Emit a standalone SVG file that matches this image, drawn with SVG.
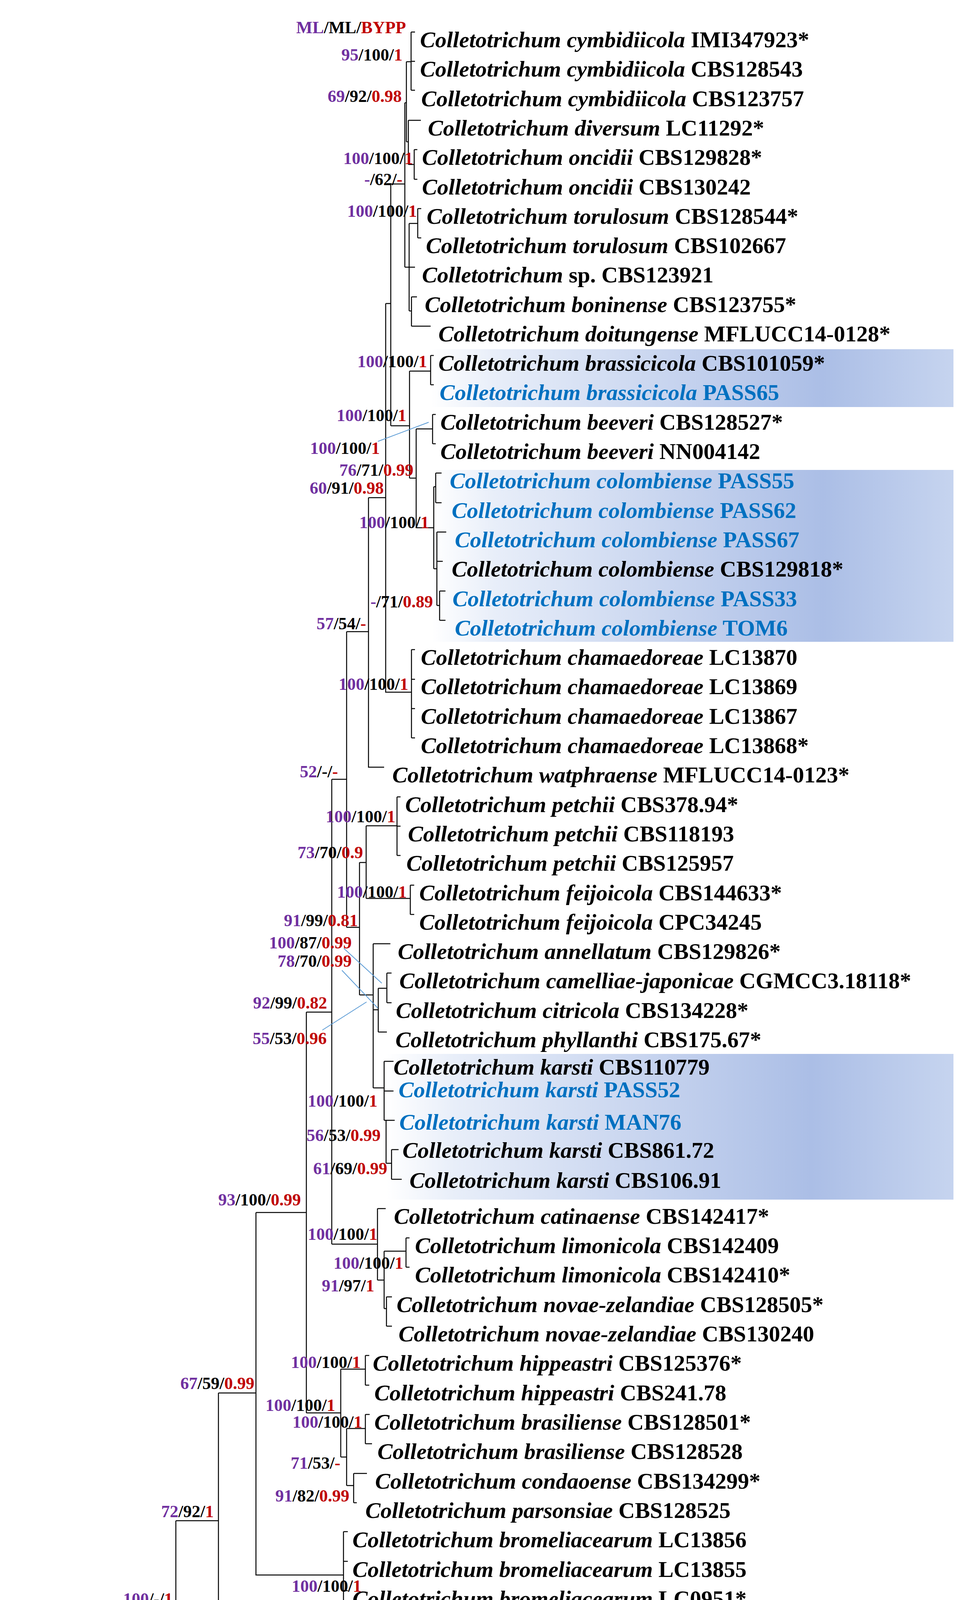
<svg xmlns="http://www.w3.org/2000/svg" width="2490" height="4550" viewBox="0 0 2490 4550">
<style>
.t{font-family:"Liberation Serif","Times New Roman",serif;font-size:58px;font-weight:bold;fill:#000}
.b{fill:#0070C0}
.i{font-style:italic}
.l{font-family:"Liberation Serif","Times New Roman",serif;font-size:44px;font-weight:bold;text-anchor:end;fill:#000}
.p{fill:#7030A0}
.r{fill:#C00000}
.br{fill:none;stroke:#000;stroke-width:2.5}
.ld{fill:none;stroke:#5B9BD5;stroke-width:2}
</style>
<defs>
<linearGradient id="hl" x1="0" y1="0" x2="1" y2="0">
<stop offset="0" stop-color="#ffffff"/>
<stop offset="0.12" stop-color="#e8eef9"/>
<stop offset="0.75" stop-color="#abbee6"/>
<stop offset="1" stop-color="#c6d4ef"/>
</linearGradient>
</defs>
<rect width="2490" height="4550" fill="#fff"/>
<g id="highlights">
<rect x="1103" y="894" width="1337" height="148" fill="url(#hl)"/>
<rect x="1105" y="1203" width="1335" height="440" fill="url(#hl)"/>
<rect x="989" y="2698" width="1451" height="373" fill="url(#hl)"/>
</g>
<g id="connectors">
<path class="br" d="M85 4111V4450H459M85 4111H450M450 3893V4335H594M594 4296V4374M594 4299H606M594 4374H610
M450 3893H559M559 3566V4221H695M559 3566H655M655 3104V4032H879M879 3921V4147M879 3921H890M879 3997H890M879 4072H890M879 4147H890
M1052 82V231M1052 82H1062M1052 157H1062M1052 231H1062M1040 158H1052M1040 158V363M1040 363H1045M1045 308V421M1045 308H1077M1045 421H1060M1060 383V459M1060 383H1068M1060 459H1068
M1036 263H1040M1036 263V684M1000 471H1036M1036 684H1047M1047 572V796M1047 572H1069M1069 534V609M1069 534H1078M1069 609H1078M1047 684H1062M1047 796H1053M1053 760V835M1053 760H1067M1053 835H1102
M1000 471V1090M987 777H1000M1000 1090H1048M1048 950V1224M1048 950H1102M1102 910V985M1102 910H1110M1102 985H1110
M1048 1224H1065M1065 1098V1351M1065 1098H1107M1107 1061V1136M1107 1061H1115M1107 1136H1115
M1065 1351H1110M1110 1246V1456M1110 1246H1115M1115 1211V1287M1115 1211H1130M1115 1287H1130M1110 1456H1118M1118 1362V1550M1118 1362H1142M1118 1437H1133M1118 1550H1125M1125 1513V1588M1125 1513H1140M1125 1588H1140
M987 777V1772H1053M1053 1663V1889M1053 1663H1062M1053 1739H1062M1053 1814H1062M1053 1889H1062
M943 1274H987M943 1274V1964H983M887 1617H943M887 1617V2374M849 1995H887M849 1995V3185M784 2591H849
M887 2374H920M920 2208V2547M920 2208H937M937 2114V2300M937 2114H1016M1016 2040V2190M1016 2040H1025M1016 2115H1025M1016 2190H1025M937 2300H1050M1050 2266V2341M1050 2266H1060M1050 2341H1060
M920 2547H955M955 2416V2785M955 2416H999M955 2585H968M968 2530V2642M968 2530H990M990 2491V2567M990 2491H1002M990 2567H1002M968 2642H990
M955 2785H983M983 2717V2868M983 2717H1007M983 2793H1007M983 2868H988M988 2868V2978M988 2868H1010M988 2978H1002M1002 2943V3019M1002 2943H1020M1002 3019H1028
M849 3185H966M966 3094V3277M966 3094H987M966 3277H983M983 3203V3350M983 3203H1039M1039 3169V3244M1039 3169H1048M1039 3244H1048M983 3350H989M989 3320V3395M989 3320H1003M989 3395H1003
M784 2591V3617M655 3104H784M784 3617H872M872 3505V3730M872 3505H935M935 3470V3546M935 3470H945M935 3546H945M872 3730H887M887 3657V3803M887 3657H935M935 3621V3696M935 3621H946M935 3696H952M887 3803H905M905 3772V3847M905 3772H939M905 3847H913"/>
<path class="ld" d="M1097 1081L967 1130M880 2428L977 2517M875 2484L967 2581M825 2637L938 2565"/>
<path class="br" d="M100 4511H326M100 4502V4520M326 4502V4520"/>
</g>
<g id="taxa">
<text id="n1" class="t" x="1075" y="121"><tspan class="i">Colletotrichum cymbidiicola</tspan> IMI347923*</text>
<text id="n2" class="t" x="1075" y="196"><tspan class="i">Colletotrichum cymbidiicola</tspan> CBS128543</text>
<text id="n3" class="t" x="1078" y="272"><tspan class="i">Colletotrichum cymbidiicola</tspan> CBS123757</text>
<text id="n4" class="t" x="1095" y="347"><tspan class="i">Colletotrichum diversum</tspan> LC11292*</text>
<text id="n5" class="t" x="1080" y="422"><tspan class="i">Colletotrichum oncidii</tspan> CBS129828*</text>
<text id="n6" class="t" x="1080" y="498"><tspan class="i">Colletotrichum oncidii</tspan> CBS130242</text>
<text id="n7" class="t" x="1092" y="573"><tspan class="i">Colletotrichum torulosum</tspan> CBS128544*</text>
<text id="n8" class="t" x="1090" y="648"><tspan class="i">Colletotrichum torulosum</tspan> CBS102667</text>
<text id="n9" class="t" x="1080" y="723"><tspan class="i">Colletotrichum</tspan> sp. CBS123921</text>
<text id="n10" class="t" x="1087" y="799"><tspan class="i">Colletotrichum boninense</tspan> CBS123755*</text>
<text id="n11" class="t" x="1122" y="874"><tspan class="i">Colletotrichum doitungense</tspan> MFLUCC14-0128*</text>
<text id="n12" class="t" x="1122" y="949"><tspan class="i">Colletotrichum brassicicola</tspan> CBS101059*</text>
<text id="n13" class="t b" x="1125" y="1024"><tspan class="i">Colletotrichum brassicicola</tspan> PASS65</text>
<text id="n14" class="t" x="1127" y="1100"><tspan class="i">Colletotrichum beeveri</tspan> CBS128527*</text>
<text id="n15" class="t" x="1127" y="1175"><tspan class="i">Colletotrichum beeveri</tspan> NN004142</text>
<text id="n16" class="t b" x="1151" y="1250"><tspan class="i">Colletotrichum colombiense</tspan> PASS55</text>
<text id="n17" class="t b" x="1156" y="1326"><tspan class="i">Colletotrichum colombiense</tspan> PASS62</text>
<text id="n18" class="t b" x="1164" y="1401"><tspan class="i">Colletotrichum colombiense</tspan> PASS67</text>
<text id="n19" class="t" x="1156" y="1476"><tspan class="i">Colletotrichum colombiense</tspan> CBS129818*</text>
<text id="n20" class="t b" x="1158" y="1552"><tspan class="i">Colletotrichum colombiense</tspan> PASS33</text>
<text id="n21" class="t b" x="1164" y="1627"><tspan class="i">Colletotrichum colombiense</tspan> TOM6</text>
<text id="n22" class="t" x="1077" y="1702"><tspan class="i">Colletotrichum chamaedoreae</tspan> LC13870</text>
<text id="n23" class="t" x="1077" y="1777"><tspan class="i">Colletotrichum chamaedoreae</tspan> LC13869</text>
<text id="n24" class="t" x="1077" y="1853"><tspan class="i">Colletotrichum chamaedoreae</tspan> LC13867</text>
<text id="n25" class="t" x="1077" y="1928"><tspan class="i">Colletotrichum chamaedoreae</tspan> LC13868*</text>
<text id="n26" class="t" x="1004" y="2003"><tspan class="i">Colletotrichum watphraense</tspan> MFLUCC14-0123*</text>
<text id="n27" class="t" x="1037" y="2079"><tspan class="i">Colletotrichum petchii</tspan> CBS378.94*</text>
<text id="n28" class="t" x="1044" y="2154"><tspan class="i">Colletotrichum petchii</tspan> CBS118193</text>
<text id="n29" class="t" x="1040" y="2229"><tspan class="i">Colletotrichum petchii</tspan> CBS125957</text>
<text id="n30" class="t" x="1073" y="2305"><tspan class="i">Colletotrichum feijoicola</tspan> CBS144633*</text>
<text id="n31" class="t" x="1073" y="2380"><tspan class="i">Colletotrichum feijoicola</tspan> CPC34245</text>
<text id="n32" class="t" x="1018" y="2455"><tspan class="i">Colletotrichum annellatum</tspan> CBS129826*</text>
<text id="n33" class="t" x="1022" y="2530"><tspan class="i">Colletotrichum camelliae-japonicae</tspan> CGMCC3.18118*</text>
<text id="n34" class="t" x="1013" y="2606"><tspan class="i">Colletotrichum citricola</tspan> CBS134228*</text>
<text id="n35" class="t" x="1012" y="2681"><tspan class="i">Colletotrichum phyllanthi</tspan> CBS175.67*</text>
<text id="n36" class="t" x="1007" y="2751"><tspan class="i">Colletotrichum karsti</tspan> CBS110779</text>
<text id="n37" class="t b" x="1020" y="2809"><tspan class="i">Colletotrichum karsti</tspan> PASS52</text>
<text id="n38" class="t b" x="1022" y="2892"><tspan class="i">Colletotrichum karsti</tspan> MAN76</text>
<text id="n39" class="t" x="1030" y="2964"><tspan class="i">Colletotrichum karsti</tspan> CBS861.72</text>
<text id="n40" class="t" x="1048" y="3041"><tspan class="i">Colletotrichum karsti</tspan> CBS106.91</text>
<text id="n41" class="t" x="1008" y="3133"><tspan class="i">Colletotrichum catinaense</tspan> CBS142417*</text>
<text id="n42" class="t" x="1062" y="3208"><tspan class="i">Colletotrichum limonicola</tspan> CBS142409</text>
<text id="n43" class="t" x="1062" y="3283"><tspan class="i">Colletotrichum limonicola</tspan> CBS142410*</text>
<text id="n44" class="t" x="1015" y="3359"><tspan class="i">Colletotrichum novae-zelandiae</tspan> CBS128505*</text>
<text id="n45" class="t" x="1020" y="3434"><tspan class="i">Colletotrichum novae-zelandiae</tspan> CBS130240</text>
<text id="n46" class="t" x="954" y="3509"><tspan class="i">Colletotrichum hippeastri</tspan> CBS125376*</text>
<text id="n47" class="t" x="958" y="3585"><tspan class="i">Colletotrichum hippeastri</tspan> CBS241.78</text>
<text id="n48" class="t" x="958" y="3660"><tspan class="i">Colletotrichum brasiliense</tspan> CBS128501*</text>
<text id="n49" class="t" x="966" y="3735"><tspan class="i">Colletotrichum brasiliense</tspan> CBS128528</text>
<text id="n50" class="t" x="960" y="3811"><tspan class="i">Colletotrichum condaoense</tspan> CBS134299*</text>
<text id="n51" class="t" x="935" y="3886"><tspan class="i">Colletotrichum parsonsiae</tspan> CBS128525</text>
<text id="n52" class="t" x="902" y="3961"><tspan class="i">Colletotrichum bromeliacearum</tspan> LC13856</text>
<text id="n53" class="t" x="902" y="4037"><tspan class="i">Colletotrichum bromeliacearum</tspan> LC13855</text>
<text id="n54" class="t" x="902" y="4112"><tspan class="i">Colletotrichum bromeliacearum</tspan> LC0951*</text>
<text id="n55" class="t" x="902" y="4187"><tspan class="i">Colletotrichum bromeliacearum</tspan> LC13854</text>
<text id="n56" class="t" x="717" y="4262"><tspan class="i">Colletotrichum dacrycarpi</tspan> CBS130241*</text>
<text id="n57" class="t" x="618" y="4338"><tspan class="i">Colletotrichum constrictum</tspan> CBS128504*</text>
<text id="n58" class="t" x="623" y="4413"><tspan class="i">Colletotrichum constrictum</tspan> CBS128503</text>
<text id="n59" class="t" x="471" y="4475"><tspan class="i">Monilochaetes infuscans</tspan> CBS869.96</text>
</g>
<g id="support">
<text class="l" x="1039" y="85"><tspan class="p">ML</tspan>/ML/<tspan class="r">BYPP</tspan></text>
<text class="l" x="1030" y="155"><tspan class="p">95</tspan>/100/<tspan class="r">1</tspan></text>
<text class="l" x="1028" y="261"><tspan class="p">69</tspan>/92/<tspan class="r">0.98</tspan></text>
<text class="l" x="1057" y="420"><tspan class="p">100</tspan>/100/<tspan class="r">1</tspan></text>
<text class="l" x="1030" y="474"><tspan class="p">-</tspan>/62/<tspan class="r">-</tspan></text>
<text class="l" x="1067" y="555"><tspan class="p">100</tspan>/100/<tspan class="r">1</tspan></text>
<text class="l" x="1093" y="940"><tspan class="p">100</tspan>/100/<tspan class="r">1</tspan></text>
<text class="l" x="1040" y="1078"><tspan class="p">100</tspan>/100/<tspan class="r">1</tspan></text>
<text class="l" x="972" y="1162"><tspan class="p">100</tspan>/100/<tspan class="r">1</tspan></text>
<text class="l" x="1058" y="1218"><tspan class="p">76</tspan>/71/<tspan class="r">0.99</tspan></text>
<text class="l" x="982" y="1264"><tspan class="p">60</tspan>/91/<tspan class="r">0.98</tspan></text>
<text class="l" x="1098" y="1352"><tspan class="p">100</tspan>/100/<tspan class="r">1</tspan></text>
<text class="l" x="1108" y="1555"><tspan class="p">-</tspan>/71/<tspan class="r">0.89</tspan></text>
<text class="l" x="937" y="1611"><tspan class="p">57</tspan>/54/<tspan class="r">-</tspan></text>
<text class="l" x="1045" y="1766"><tspan class="p">100</tspan>/100/<tspan class="r">1</tspan></text>
<text class="l" x="865" y="1990"><tspan class="p">52</tspan>/-/<tspan class="r">-</tspan></text>
<text class="l" x="1012" y="2105"><tspan class="p">100</tspan>/100/<tspan class="r">1</tspan></text>
<text class="l" x="929" y="2197"><tspan class="p">73</tspan>/70/<tspan class="r">0.9</tspan></text>
<text class="l" x="1041" y="2298"><tspan class="p">100</tspan>/100/<tspan class="r">1</tspan></text>
<text class="l" x="916" y="2371"><tspan class="p">91</tspan>/99/<tspan class="r">0.81</tspan></text>
<text class="l" x="900" y="2428"><tspan class="p">100</tspan>/87/<tspan class="r">0.99</tspan></text>
<text class="l" x="900" y="2475"><tspan class="p">78</tspan>/70/<tspan class="r">0.99</tspan></text>
<text class="l" x="837" y="2582"><tspan class="p">92</tspan>/99/<tspan class="r">0.82</tspan></text>
<text class="l" x="836" y="2673"><tspan class="p">55</tspan>/53/<tspan class="r">0.96</tspan></text>
<text class="l" x="966" y="2833"><tspan class="p">100</tspan>/100/<tspan class="r">1</tspan></text>
<text class="l" x="974" y="2921"><tspan class="p">56</tspan>/53/<tspan class="r">0.99</tspan></text>
<text class="l" x="991" y="3006"><tspan class="p">61</tspan>/69/<tspan class="r">0.99</tspan></text>
<text class="l" x="770" y="3086"><tspan class="p">93</tspan>/100/<tspan class="r">0.99</tspan></text>
<text class="l" x="966" y="3174"><tspan class="p">100</tspan>/100/<tspan class="r">1</tspan></text>
<text class="l" x="1032" y="3248"><tspan class="p">100</tspan>/100/<tspan class="r">1</tspan></text>
<text class="l" x="958" y="3306"><tspan class="p">91</tspan>/97/<tspan class="r">1</tspan></text>
<text class="l" x="923" y="3502"><tspan class="p">100</tspan>/100/<tspan class="r">1</tspan></text>
<text class="l" x="651" y="3556"><tspan class="p">67</tspan>/59/<tspan class="r">0.99</tspan></text>
<text class="l" x="858" y="3612"><tspan class="p">100</tspan>/100/<tspan class="r">1</tspan></text>
<text class="l" x="927" y="3655"><tspan class="p">100</tspan>/100/<tspan class="r">1</tspan></text>
<text class="l" x="871" y="3760"><tspan class="p">71</tspan>/53/<tspan class="r">-</tspan></text>
<text class="l" x="894" y="3844"><tspan class="p">91</tspan>/82/<tspan class="r">0.99</tspan></text>
<text class="l" x="547" y="3884"><tspan class="p">72</tspan>/92/<tspan class="r">1</tspan></text>
<text class="l" x="925" y="4075"><tspan class="p">100</tspan>/100/<tspan class="r">1</tspan></text>
<text class="l" x="442" y="4108"><tspan class="p">100</tspan>/-/<tspan class="r">1</tspan></text>
<text class="l" x="572" y="4323"><tspan class="p">100</tspan>/100/<tspan class="r">1</tspan></text>
</g>
<g id="scale">
<text x="213" y="4505" font-family="Liberation Serif, serif" font-size="40" font-weight="bold" text-anchor="middle">100</text>
</g>
</svg>
